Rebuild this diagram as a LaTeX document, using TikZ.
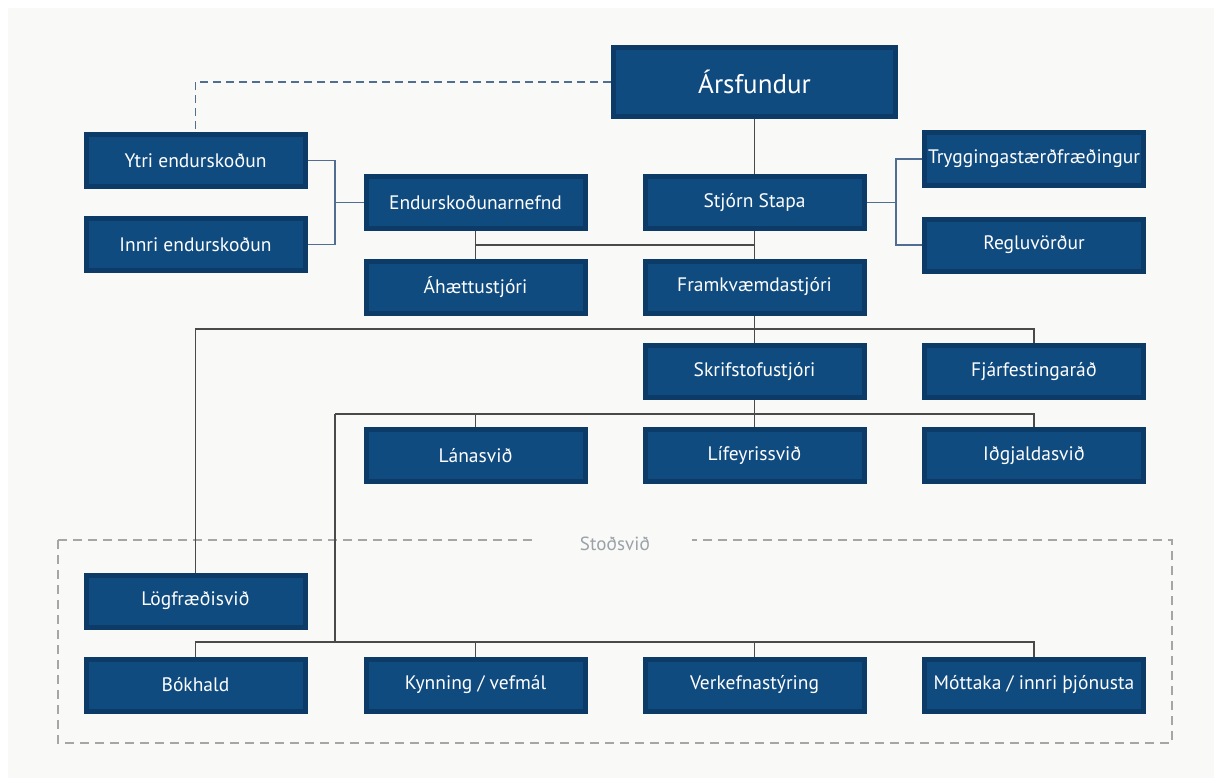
\documentclass[tikz,border=0pt]{standalone}
\usepackage{fontspec}
\setmainfont{PT Sans}
\usepackage{tikz}
\usetikzlibrary{positioning}

\definecolor{panel}{HTML}{F9F9F7}
\definecolor{boxfill}{HTML}{104B80}
\definecolor{boxedge}{HTML}{0B3B66}
\definecolor{linkgray}{HTML}{4A4A4A}
\definecolor{linkblue}{HTML}{4F6E92}
\definecolor{grouplabel}{HTML}{9AA1A9}

\tikzset{
  unit/.style={draw=boxedge, line width=5pt, fill=boxfill, text=white,
    minimum width=219pt, minimum height=52pt, inner sep=0pt,
    font=\fontsize{19.5}{23}\selectfont},
  link/.style={draw=linkgray, line width=1.4pt},
  sidelink/.style={draw=linkblue, line width=1.4pt},
  dashlink/.style={draw=linkblue, line width=1.4pt, dash pattern=on 8pt off 5pt},
  groupline/.style={draw=gray!70, line width=1.2pt, dash pattern=on 9pt off 6pt}
}

\begin{document}
\begin{tikzpicture}[x=1pt, y=-1pt]
\useasboundingbox (0,0) rectangle (1214,778);
\fill[panel] (8,8) rectangle (1214,778);

% Support group frame
\draw[groupline] (58,540) rectangle (1172,743);
\node[fill=panel, text=grouplabel, inner xsep=42pt, inner ysep=2pt,
  font=\fontsize{19}{22}\selectfont] (stodsvid) at (615,544) {Stoðsvið};

% Top level
\node[unit, minimum width=282pt, minimum height=69pt,
  font=\fontsize{27}{32}\selectfont] (arsfundur) at (754.5,82) {Ársfundur};

% Audit
\node[unit] (ytri) at (195.5,160.5) {Ytri endurskoðun};
\node[unit] (innri) at (195.5,244.5) {Innri endurskoðun};
\node[unit] (endnefnd) at (475.5,202.5) {Endurskoðunarnefnd};
\node[unit] (ahaettu) at (475.5,287) {Áhættustjóri};

% Board and management
\node[unit] (stjorn) at (754.5,202.5) {Stjórn Stapa};
\node[unit] (framk) at (754.5,287) {Framkvæmdastjóri};
\node[unit] (tryg) at (1034,159) {Tryggingastærðfræðingur};
\node[unit] (reglu) at (1034,245) {Regluvörður};

% Office
\node[unit] (skrif) at (754.5,371.5) {Skrifstofustjóri};
\node[unit] (fjarf) at (1034,371.5) {Fjárfestingaráð};
\node[unit] (lana) at (475.5,455.5) {Lánasvið};
\node[unit] (lif) at (754.5,455.5) {Lífeyrissvið};
\node[unit] (idgj) at (1034,455.5) {Iðgjaldasvið};

% Support units
\node[unit] (logfr) at (195.5,601) {Lögfræðisvið};
\node[unit] (bok) at (195.5,685) {Bókhald};
\node[unit] (kynn) at (475.5,685) {Kynning / vefmál};
\node[unit] (verk) at (754.5,685) {Verkefnastýring};
\node[unit] (mott) at (1034,685) {Móttaka / innri þjónusta};

% Junctions
\coordinate (lb) at (335,202.5);
\coordinate (rb) at (896,202.5);
\coordinate (j1) at (754.5,245);
\coordinate (b1) at (754.5,329);
\coordinate (b2) at (754.5,414);
\coordinate (b3) at (335,414);
\coordinate (b4) at (335,642);

% Connections
\draw[dashlink] (arsfundur.west) -| (ytri.north);
\draw[sidelink] (ytri.east) -| (lb) |- (innri.east);
\draw[sidelink] (lb) -- (endnefnd.west);
\draw[sidelink] (tryg.west) -| (rb) |- (reglu.west);
\draw[sidelink] (stjorn.east) -- (rb);

\draw[link] (arsfundur.south) -- (stjorn.north);
\draw[link] (stjorn.south) -- (framk.north);
\draw[link] (endnefnd.south) -- (ahaettu.north);
\draw[link] (endnefnd.south |- j1) -- (j1);

\draw[link] (framk.south) -- (skrif.north);
\draw[link] (logfr.north) |- (b1) -| (fjarf.north);

\draw[link] (skrif.south) -- (lif.north);
\draw[link] (b3) -| (idgj.north);
\draw[link] (lana.north) -- (lana.north |- b3);
\draw[link] (b3) -- (b4);

\draw[link] (bok.north) |- (b4) -| (mott.north);
\foreach \u in {kynn,verk}
    \draw[link] (\u.north) -- (\u.north |- b4);
\end{tikzpicture}
\end{document}
